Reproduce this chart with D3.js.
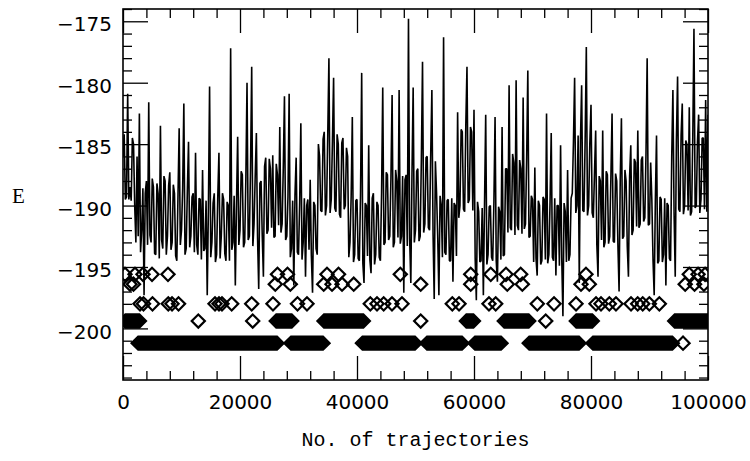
<!DOCTYPE html>
<html>
<head>
<meta charset="utf-8">
<script src="https://cdn.jsdelivr.net/npm/d3@7"></script>
<style>
html,body{margin:0;padding:0;background:#fff;}
svg{display:block;}
</style>
</head>
<body>
<svg id="chart" width="750" height="461"></svg>
<script>
// ---------- data ----------
const trajStep = 200; // trajectories between successive energy samples
const energy = [
-186,-184.2,-189.5,-189.3,-180.9,-189.5,-188.5,-189.6,-184.5,-185,-190,-193,-186,-192.5,-182.5,-193.8,-192,-188.6,-197.3,-189,
-188,-193.2,-181.6,-192.4,-193,-187.8,-188.5,-193.9,-194,-188.2,-189,-194.3,-183.5,-192.8,-193.5,-187.6,-188,-194,-192.5,-188.4,
-187.3,-193.6,-193,-188.3,-189,-194.1,-194.5,-189.2,-183.7,-193.2,-192,-188.6,-181.7,-194,-193.5,-188.8,-184.8,-193.4,-192.5,-189.3,
-189,-193.8,-185.7,-193.2,-194,-189.4,-189.5,-194.4,-187.1,-193.7,-193.5,-189.6,-197.3,-190.2,-180.3,-194.2,-193,-189.8,-189,-194.6,
-194,-189.3,-185.7,-194.3,-192.5,-189,-189.5,-193.9,-194.5,-189.7,-190,-194.5,-177.2,-193.6,-193,-189.2,-196.5,-189.9,-184.4,-193.2,
-192,-187.2,-187.5,-193.4,-193,-187.8,-180.0,-192.8,-192.5,-187,-178.7,-193.3,-191.5,-187.6,-184.1,-192.6,-196.8,-188.2,-188,-192.4,
-195.8,-186.8,-186.1,-192.3,-192,-186.2,-187,-191.8,-185.9,-192.6,-192.5,-186.6,-187.5,-191.6,-183.6,-192.2,-191.5,-186.9,-181.1,-192.8,
-192.5,-189.3,-180.9,-194.2,-193.5,-189.6,-196.5,-189.1,-186.1,-193.8,-194,-189.8,-183.3,-194.4,-193,-189.4,-195.8,-190,-189.5,-193.6,
-187.9,-194.1,-197.1,-189.7,-190,-193.5,-194,-185,-186,-190.4,-190.5,-184.6,-184.0,-190.8,-190,-184.3,-178.0,-190.6,-189.5,-184.8,
-179.6,-190.2,-190.5,-184.2,-185,-190.7,-191,-184.9,-184.5,-190.3,-190,-185.3,-186,-194.2,-193,-189.3,-182.8,-194.6,-194,-189.6,
-189.5,-194.3,-194.5,-189.2,-179.2,-194.7,-196.3,-189.8,-190,-194.1,-185.1,-194.4,-195.5,-189.4,-189,-194.8,-194,-189.7,-190,-194.2,
-194.5,-189,-180.4,-193.2,-193,-187.3,-187.5,-192.8,-192.5,-187.8,-181.0,-193.4,-193,-187.1,-188,-192.6,-180.6,-193.1,-192.5,-187.6,
-197.1,-187.9,-187.5,-193.3,-174.8,-192.7,-196.3,-187.4,-180.4,-193,-192,-187.2,-187,-192.9,-192.5,-186.3,-178.3,-192.2,-191.5,-186.1,
-186,-191.8,-192,-185.8,-180.6,-192.3,-197.6,-186.4,-189,-192.6,-197.3,-189.2,-190,-194.2,-176.3,-193.8,-194,-189.6,-189.5,-194.5,
-194.5,-189.4,-196.2,-189.8,-190,-194.1,-182.4,-191,-190,-183.8,-184,-190.3,-190.5,-183.4,-178.7,-189.8,-189.5,-183.6,-184,-190.4,
-182.2,-194.3,-197.7,-189.7,-190.5,-194.6,-194.5,-190.2,-197.3,-189.9,-182.6,-194.8,-194,-190.1,-190,-194.2,-194.5,-189.8,-182.8,-194.5,
-196.2,-190.1,-190.5,-194.4,-183.6,-194.1,-194,-187,-187,-192.2,-180.2,-191.8,-192,-185.8,-186.5,-192.4,-179.8,-191.6,-192,-186.3,
-187,-192.3,-181.2,-191.9,-191.5,-186.2,-179.0,-192.6,-192.5,-189.2,-189.5,-194.6,-186.9,-194.3,-195.7,-189.6,-190,-194.8,-194.5,-189.3,
-189.5,-194.4,-182.5,-194.7,-194,-189.7,-184.1,-194.2,-194.5,-189.4,-195.7,-190,-190,-194.9,-185.1,-194.3,-199.0,-189.8,-190.5,-194.6,
-187.1,-194.5,-194,-189.4,-189,-184.8,-179.6,-190.6,-190,-184.3,-196.3,-184.7,-180.2,-190.4,-190.5,-184.6,-177.1,-190.8,-190,-184.9,
-181.8,-190.6,-191,-187.3,-183.9,-193.2,-195.8,-187.6,-188,-192.8,-183.9,-193.4,-193,-187.2,-187.5,-193.1,-192.5,-187.7,-182.5,-192.9,
-193,-187.4,-188,-193.2,-197.0,-187.8,-182.9,-192.7,-192.5,-187.1,-188,-193.3,-195.8,-187.6,-185.1,-192.4,-192,-186.2,-186.5,-191.7,
-183.9,-191.8,-191.5,-186.3,-186,-191.3,-191,-185.8,-178.0,-191.6,-191.5,-186.5,-189.5,-194.4,-197.3,-189.6,-184.3,-194.7,-194.5,-189.3,
-189.5,-194.6,-194,-189.4,-196.5,-189.8,-190,-194.3,-194.5,-186,-180.6,-190.6,-195.8,-184.6,-179.5,-190.3,-190.5,-184.3,-181.7,-190.7,
-190,-184.7,-185,-190.4,-182.0,-190.8,-190.5,-184.4,-175.6,-190.2,-190,-184.8,-182.6,-190.6,-189.5,-184.5,-184.5,-190.3,-181.4,-190.5,-182.6
];

// discrete minimum-energy levels visited (diamond markers)
const levelE = [-195.6, -196.4, -198.0, -199.4, -201.2];
const level1Points = [340,2050,3420,4960,7690,26410,28120,34870,36840,47400,59440,62860,65470,67980,79140,96800,98300,99500];
const level2Points = [1200,1790,26030,28600,34310,35730,37440,39440,50890,59440,65690,68260,78290,79710,96100,97700,99300];
const level3Points = [2910,3500,5040,7740,8380,9490,15730,16410,16920,18580,22000,25640,29830,31450,42270,43420,44560,45980,47690,56290,57440,62560,63710,70820,73680,77440,80860,81710,83130,84270,86840,87980,88840,89970,91680];
const level4Points = [12870,22170,50890,72260];
const level4Runs = [[400,2800],[26200,28840],[34360,41080],[58700,59900],[65180,69350],[77490,80220],[94310,100000]];
const level5Points = [95730];
const level5Runs = [[2600,26330],[28720,34190],[40940,49910],[51970,57950],[60170,64620],[69450,77950],[80340,93900]];

const xMajor = [0,20000,40000,60000,80000,100000];
const yMajor = [-175,-180,-185,-190,-195,-200];
const xLabel = "No. of trajectories";
const yLabel = "E";

// ---------- layout ----------
const L = 123, R = 708, T = 9, B = 380;
const svg = d3.select("#chart");
const x = d3.scaleLinear().domain([0, 100000]).range([L, R]);
const y = d3.scaleLinear().domain([-204.2, -174.0]).range([B, T]);

const xMinor = d3.range(0, 100001, 4000).filter(v => !xMajor.includes(v));
const yMinor = d3.range(-204, -173.9, 1).filter(v => !yMajor.includes(v));

svg.append("defs").append("clipPath").attr("id","clip")
  .append("rect").attr("x",L).attr("y",T).attr("width",R-L).attr("height",B-T);

const plot = svg.append("g").attr("clip-path","url(#clip)");

// energy trace
const line = d3.line().x((d,i)=>x(i*trajStep)).y(d=>y(d));
plot.append("path").datum(energy)
  .attr("d", line).attr("fill","none").attr("stroke","#000")
  .attr("stroke-width",1.6).attr("stroke-linejoin","bevel");

// diamonds
const hw = 6.6; // half diagonal in px
const diamondPath = d3.symbol().type(d3.symbolSquare).size(2*hw*hw);
const levels = [
  {e: levelE[0], pts: level1Points, runs: []},
  {e: levelE[1], pts: level2Points, runs: []},
  {e: levelE[2], pts: level3Points, runs: []},
  {e: levelE[3], pts: level4Points, runs: level4Runs},
  {e: levelE[4], pts: level5Points, runs: level5Runs}
];
levels.forEach(lv => {
  const yy = y(lv.e);
  plot.selectAll(null).data(lv.runs).enter().append("path")
    .attr("d", r => {
      const a = x(r[0]), b = x(r[1]);
      return `M${a-hw},${yy}L${a},${yy-hw}L${b},${yy-hw}L${b+hw},${yy}L${b},${yy+hw}L${a},${yy+hw}Z`;
    })
    .attr("fill","#000").attr("stroke","#000").attr("stroke-width",2.2);
  plot.selectAll(null).data(lv.pts).enter().append("path")
    .attr("d", diamondPath)
    .attr("transform", d => `translate(${x(d)},${yy}) rotate(45)`)
    .attr("fill","none").attr("stroke","#000").attr("stroke-width",2.2);
});

// axes
const fmt = d3.format("d");
function styleAxis(g){ g.select(".domain").remove(); g.selectAll("line").attr("stroke","#000").attr("stroke-width",1.3); }

svg.append("g").attr("transform",`translate(0,${B})`)
  .call(d3.axisBottom(x).tickValues(xMajor).tickSize(-24).tickPadding(14).tickFormat(fmt))
  .call(styleAxis)
  .call(g=>g.selectAll("text").attr("font-family","DejaVu Sans").attr("font-size",20).attr("fill","#000").attr("dy","0.71em").attr("y",14.5));
svg.append("g").attr("transform",`translate(0,${B})`)
  .call(d3.axisBottom(x).tickValues(xMinor).tickSize(-9).tickFormat(""))
  .call(styleAxis);
svg.append("g").attr("transform",`translate(0,${T})`)
  .call(d3.axisTop(x).tickValues(xMajor).tickSize(-24).tickFormat(""))
  .call(styleAxis);
svg.append("g").attr("transform",`translate(0,${T})`)
  .call(d3.axisTop(x).tickValues(xMinor).tickSize(-9).tickFormat(""))
  .call(styleAxis);

svg.append("g").attr("transform",`translate(${L},0)`)
  .call(d3.axisLeft(y).tickValues(yMajor).tickSize(-25).tickPadding(11).tickFormat(fmt))
  .call(styleAxis)
  .call(g=>g.selectAll("text").attr("font-family","DejaVu Sans").attr("font-size",20).attr("fill","#000").attr("dy","0.48em"));
svg.append("g").attr("transform",`translate(${L},0)`)
  .call(d3.axisLeft(y).tickValues(yMinor).tickSize(-9).tickFormat(""))
  .call(styleAxis);
svg.append("g").attr("transform",`translate(${R},0)`)
  .call(d3.axisRight(y).tickValues(yMajor).tickSize(-25).tickFormat(""))
  .call(styleAxis);
svg.append("g").attr("transform",`translate(${R},0)`)
  .call(d3.axisRight(y).tickValues(yMinor).tickSize(-9).tickFormat(""))
  .call(styleAxis);

// frame
svg.append("rect").attr("x",L).attr("y",T).attr("width",R-L).attr("height",B-T)
  .attr("fill","none").attr("stroke","#000").attr("stroke-width",1.6);

// axis titles
svg.append("text").attr("x",(L+R)/2).attr("y",446).attr("text-anchor","middle")
  .attr("font-family","Liberation Mono").attr("font-size",20).attr("fill","#000").text(xLabel);
svg.append("text").attr("x",12).attr("y",203).attr("font-family","Liberation Serif")
  .attr("font-size",21).attr("fill","#000").text(yLabel);
</script>
</body>
</html>
